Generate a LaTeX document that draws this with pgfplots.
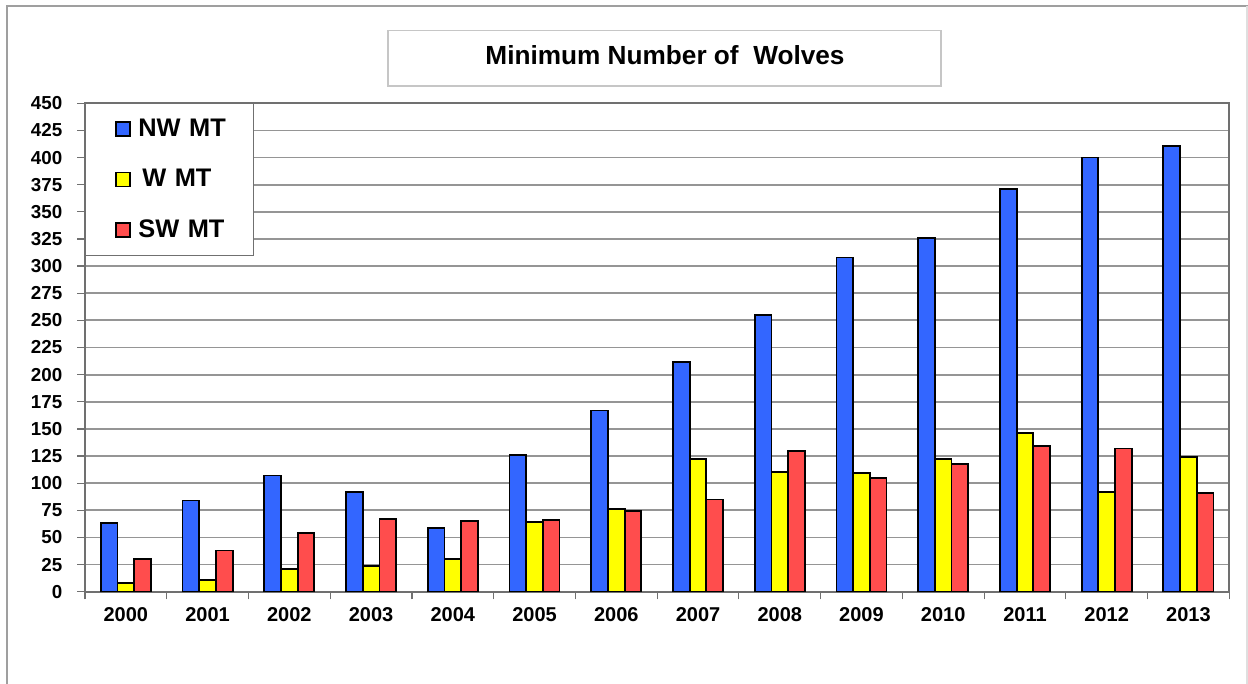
\documentclass[border=0pt]{standalone}
\usepackage{fontspec}
\setmainfont{Liberation Sans}
\usepackage{pgfplots}
\pgfplotsset{compat=1.18}
\definecolor{nwblue}{HTML}{3366FF}
\definecolor{wyellow}{HTML}{FFFF00}
\definecolor{swred}{HTML}{FF4D4D}
\definecolor{gridgray}{HTML}{959595}
\definecolor{axisgray}{HTML}{707070}
\pgfplotsset{sqlegend/.style={legend image code/.code={\path (0,0) (24pt,0); \draw[##1] (14.65pt,-3.5pt) rectangle (21.65pt,3.5pt);}}}
\begin{document}
\begin{tikzpicture}
\path[use as bounding box] (0,0) rectangle (624pt,-342pt);
% outer frame
\draw[gray!75, line width=1.2pt] (3.6pt,-342pt) -- (3.6pt,-3pt) -- (624pt,-3pt);
\draw[gray!25, line width=0.8pt] (623.5pt,-3pt) -- (623.5pt,-342pt);
% title box
\draw[gray!45, line width=0.7pt, fill=white] (194pt,-15.2pt) rectangle (470.5pt,-43pt);
\node[font=\fontsize{13.1}{15}\selectfont\bfseries] at (332.5pt,-27.6pt) {Minimum Number of\ \ Wolves};
\begin{axis}[
  at={(42.5pt,-295.85pt)}, anchor=south west,
  scale only axis, width=572.15pt, height=244.2pt,
  ybar=0pt, bar width=8.35pt,
  xmin=-0.5, xmax=13.5, ymin=0, ymax=450,
  xtick={-0.5,0.5,...,13.5}, xticklabels={},
  extra x ticks={0,1,2,3,4,5,6,7,8,9,10,11,12,13},
  extra x tick labels={2000,2001,2002,2003,2004,2005,2006,2007,2008,2009,2010,2011,2012,2013},
  extra x tick style={major tick length=0pt, grid=none},
  ytick={0,25,...,450},
  tick align=outside, major tick length=3.8pt,
  xtick pos=bottom, ytick pos=left,
  tick style={draw=axisgray, line width=0.6pt},
  ymajorgrids, grid style={draw=gridgray, line width=0.9pt},
  axis line style={draw=axisgray, line width=0.9pt},
  /pgf/number format/assume math mode=true,
  yticklabel style={font=\fontsize{9.4}{10}\selectfont\bfseries, xshift=-4pt},
  xticklabel style={font=\fontsize{10}{12}\selectfont\bfseries, yshift=-4.5pt},
  legend style={at={(0,1)}, anchor=north west, draw=axisgray, line width=0.6pt, fill=white,
    inner sep=0pt, row sep=0pt, cells={anchor=west},
    nodes={minimum height=25.2pt, inner ysep=0pt, inner xsep=1.5pt, text width=56pt,
      font=\fontsize{12.7}{14}\selectfont\bfseries}},
]
\addplot[fill=nwblue, draw=black, line width=0.9pt, sqlegend]
  coordinates {(0,63) (1,84) (2,107) (3,92) (4,59) (5,126) (6,167) (7,212) (8,255) (9,308) (10,326) (11,371) (12,400) (13,411)};
\addlegendentry{NW MT}
\addplot[fill=wyellow, draw=black, line width=0.9pt, sqlegend]
  coordinates {(0,8) (1,11) (2,21) (3,24) (4,30) (5,64) (6,76) (7,122) (8,110) (9,109) (10,122) (11,146) (12,92) (13,124)};
\addlegendentry{\hspace{2pt}W MT}
\addplot[fill=swred, draw=black, line width=0.9pt, sqlegend]
  coordinates {(0,30) (1,38) (2,54) (3,67) (4,65) (5,66) (6,74) (7,85) (8,130) (9,105) (10,118) (11,134) (12,132) (13,91)};
\addlegendentry{SW MT}
\end{axis}
\end{tikzpicture}
\end{document}
